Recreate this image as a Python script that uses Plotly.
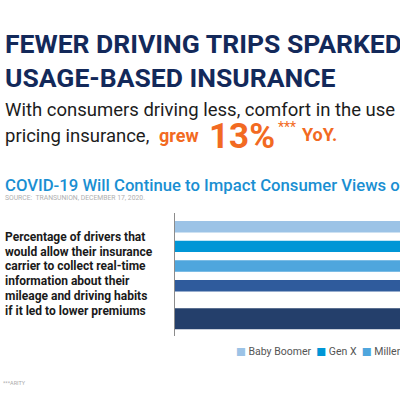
import plotly.graph_objects as go

# ---------------- data (read / estimated from the picture) ----------------
generations = ["Baby Boomer", "Gen X", "Millennial", "Gen Z", "All Drivers"]
share_pct = [41, 54, 62, 59, 52]          # bars run past the visible crop
bar_colors = ["#9cc3e6", "#0096d6", "#4fa6dd", "#2f5b9c", "#243f6b"]
bar_widths = [0.58, 0.58, 0.58, 0.58, 1.07]
bar_offsets = [-0.29, -0.29, -0.29, -0.29, 0.14]

title_lines = ["FEWER DRIVING TRIPS SPARKED", "USAGE-BASED INSURANCE"]
subtitle_line1 = "With consumers driving less, comfort in the use"
subtitle_parts = ["pricing insurance,", "grew", "13%", "***", "YoY."]
chart_title = "COVID-19 Will Continue to Impact Consumer Views of"
source_text = "SOURCE:  TRANSUNION, DECEMBER 17, 2020."
label_lines = [
    "Percentage of drivers that",
    "would allow their insurance",
    "carrier to collect real-time",
    "information about their",
    "mileage and driving habits",
    "if it led to lower premiums",
]
footnote = "***ARITY"

W = H = 400
NAVY = "#13295a"
ORANGE = "#f26a22"
BLUE = "#1a8fd2"
FONT = "Roboto, 'DejaVu Sans', sans-serif"

fig = go.Figure()
for name, val, col, w, off in zip(generations, share_pct, bar_colors, bar_widths, bar_offsets):
    fig.add_trace(go.Bar(
        y=[name], x=[val], orientation="h", name=name,
        marker=dict(color=col, line=dict(width=0)),
        width=w, offset=off, hoverinfo="skip", showlegend=False,
    ))

annotations = []


def add_text(text, x, y, size, color, weight=400):
    annotations.append(dict(
        text=text, x=x / W, y=1 - y / H, xref="paper", yref="paper",
        xanchor="left", yanchor="middle", showarrow=False, borderpad=0,
        font=dict(family=FONT, size=size, color=color, weight=weight),
    ))


add_text(title_lines[0], 4, 43.7, 26.5, NAVY, 700)
add_text(title_lines[1], 4, 77, 26.5, NAVY, 700)
add_text(subtitle_line1, 4, 110, 18.5, "#1c1c1c", 400)
add_text(subtitle_parts[0], 4, 135.7, 18.5, "#1c1c1c", 400)
add_text(subtitle_parts[1], 158, 135.5, 18, ORANGE, 700)
add_text(subtitle_parts[2], 208, 136.5, 35, ORANGE, 700)
add_text(subtitle_parts[3], 277, 127, 14, ORANGE, 400)
add_text(subtitle_parts[4], 301, 134.5, 18, ORANGE, 700)
add_text(chart_title, 4, 185.8, 16.7, BLUE, 500)
add_text(source_text, 4, 198, 6.8, "#b0b0b0", 400)
for i, line in enumerate(label_lines):
    add_text(line, 4, 237 + i * 14.7, 12, "#1a1a1a", 700)
add_text(footnote, 2, 383, 5.5, "#aaaaaa", 400)

legend_html = "&nbsp;&nbsp;".join(
    f"<span style='color:{c};font-family:DejaVu Sans'>■</span> {n}"
    for n, c in zip(generations, bar_colors)
)
add_text(legend_html, 235, 351, 10.5, "#555555", 400)

fig.update_layout(
    width=W, height=H,
    margin=dict(l=0, r=0, t=0, b=0),
    paper_bgcolor="white", plot_bgcolor="white",
    barmode="overlay",
    showlegend=False,
    annotations=annotations,
    xaxis=dict(domain=[175 / W, 1], range=[0, 40], visible=False, fixedrange=True),
    yaxis=dict(
        domain=[1 - 336 / H, 1 - 213.3 / H],
        type="category", categoryorder="array", categoryarray=generations,
        range=[5.55, -0.68],
        showline=True, linecolor="#8c8c8c", linewidth=1.5,
        showticklabels=False, ticks="", showgrid=False, zeroline=False,
        fixedrange=True,
    ),
)

fig.write_html(
    "out.html",
    config={"displayModeBar": False, "staticPlot": True},
    post_script="document.body.style.margin='0';",
)
